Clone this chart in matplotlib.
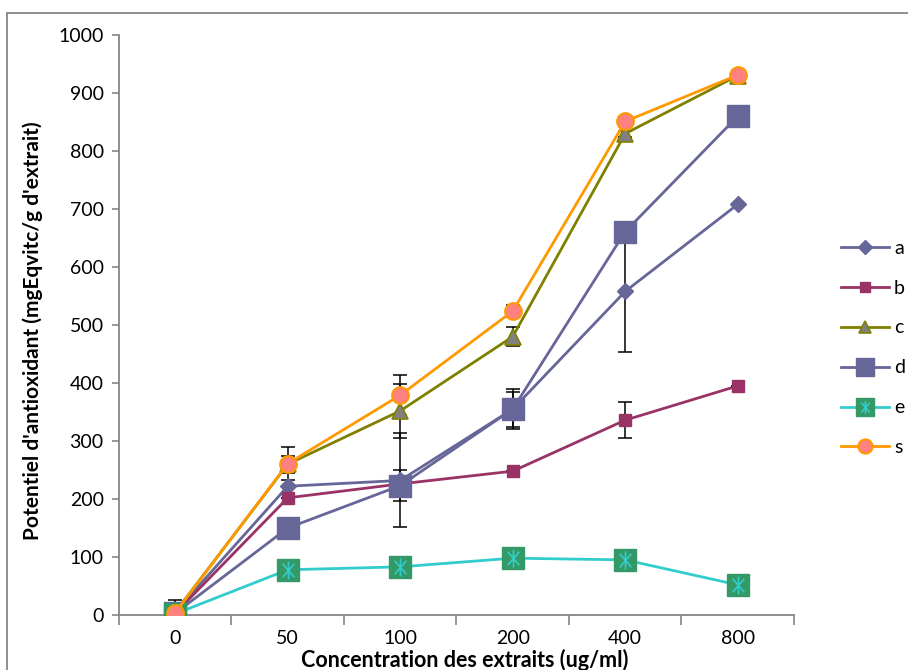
import matplotlib
matplotlib.use("Agg")
import matplotlib.pyplot as plt
from matplotlib.path import Path
from matplotlib.patches import Rectangle
import numpy as np

plt.rcParams['font.family'] = ['Lato', 'DejaVu Sans']

# concentrations (categories on the x axis)
conc = ["0", "50", "100", "200", "400", "800"]

# antioxidant potential for each extract
a = [5, 222, 232, 355, 558, 708]
b = [3, 202, 226, 248, 336, 395]
c = [5, 260, 352, 480, 830, 930]
d = [3, 150, 223, 355, 661, 860]
e = [2, 78, 83, 98, 95, 52]
s = [4, 261, 379, 524, 851, 931]

# standard deviations
a_err = [0, 0, 81, 35, 104, 0]
b_err = [0, 0, 0, 0, 31, 0]
c_err = [0, 15, 46, 17, 5, 0]
d_err = [0, 0, 27, 30, 0, 0]
e_err = [0, 0, 0, 0, 0, 0]
s_err = [22, 29, 34, 11, 0, 0]

# star marker: vertical bar plus a narrow cross
star = Path([(0, -1), (0, 1), (-0.65, -0.75), (0.65, 0.75), (-0.65, 0.75), (0.65, -0.75)],
            [Path.MOVETO, Path.LINETO] * 3)

fig = plt.figure(figsize=(9.08, 6.70), dpi=100)
ax = fig.add_axes([119 / 908, 55 / 670, 675 / 908, 580 / 670])

x = np.arange(len(conc))
lw = 2.0

series = [
    ("a", a, a_err, dict(color="#666699", marker="D", markersize=8.5, markerfacecolor="#666699",
                         markeredgecolor="#666699")),
    ("b", b, b_err, dict(color="#993366", marker="s", markersize=9, markerfacecolor="#993366",
                         markeredgecolor="#993366")),
    ("c", c, c_err, dict(color="#808000", marker="^", markersize=11, markerfacecolor="#808080",
                         markeredgecolor="#808000", markeredgewidth=1.2)),
    ("d", d, d_err, dict(color="#666699", marker="s", markersize=16, markerfacecolor="#666699",
                         markeredgecolor="#666699")),
    ("e", e, e_err, dict(color="#33CCCC", marker="s", markersize=16, markerfacecolor="#339966",
                         markeredgecolor="#339966")),
    ("s", s, s_err, dict(color="#FF9900", marker="o", markersize=12, markerfacecolor="#FF8080",
                         markeredgecolor="#FF9900", markeredgewidth=1.5)),
]

handles = []
for i, (name, vals, err, style) in enumerate(series):
    ax.errorbar(x, vals, yerr=err, fmt="none", ecolor="black", elinewidth=1.1,
                capsize=5, capthick=1.1, zorder=2 + i * 0.1)
    line, = ax.plot(x, vals, linewidth=lw, label=name, zorder=3 + i * 0.1, **style)
    handles.append(line)

# asterisk overlay on the e markers
ax.plot(x, e, linestyle="none", marker=star, markersize=13, markerfacecolor="none",
        markeredgecolor="#33CCCC", markeredgewidth=1.2, zorder=3.45)

ax.set_xlim(-0.5, 5.5)
ax.set_ylim(0, 1000)
ax.set_yticks(np.arange(0, 1001, 100))
ax.set_xticks(x)
ax.set_xticklabels(conc)
ax.set_xticks(np.arange(-0.5, 5.6, 1), minor=True)

for side in ["top", "right"]:
    ax.spines[side].set_visible(False)
for side in ["left", "bottom"]:
    ax.spines[side].set_color("#868686")
    ax.spines[side].set_linewidth(1.3)

ax.tick_params(axis="y", direction="out", length=5, width=1.2, color="#868686",
               labelsize=14, pad=6)
ax.tick_params(axis="x", which="major", length=0, labelsize=14, pad=11)
ax.tick_params(axis="x", which="minor", direction="out", length=7, width=1.2, color="#868686")

ax.set_xlabel("Concentration des extraits (ug/ml)", fontsize=15.5, fontweight="bold")
ax.xaxis.set_label_coords(0.512, -0.058)
ax.set_ylabel("Potentiel d'antioxidant (mgEqvitc/g d'extrait)", fontsize=15, fontweight="bold")
ax.yaxis.set_label_coords(-0.113, 0.49)

# e legend entry shows the square with the asterisk on top
e_star, = ax.plot([], [], linestyle="none", marker=star, markersize=11, markerfacecolor="none",
                  markeredgecolor="#33CCCC", markeredgewidth=1.2)
leg_handles = [handles[0], handles[1], handles[2], handles[3], (handles[4], e_star), handles[5]]
leg_labels = [name for name, _, _, _ in series]
fig.legend(leg_handles, leg_labels,
           loc="upper left", bbox_to_anchor=(825 / 908, 1 - 224 / 670), frameon=False,
           fontsize=14, handlelength=2.5, handletextpad=0.25, labelspacing=1.18,
           borderpad=0.3, markerscale=0.85)

# outer chart frame
fig.patches.append(Rectangle((7 / 908, -0.05), 1.2, 1 - 13 / 670 + 0.05, transform=fig.transFigure,
                             fill=False, edgecolor="#868686", linewidth=1.3))

fig.savefig("out.png", dpi=100)
